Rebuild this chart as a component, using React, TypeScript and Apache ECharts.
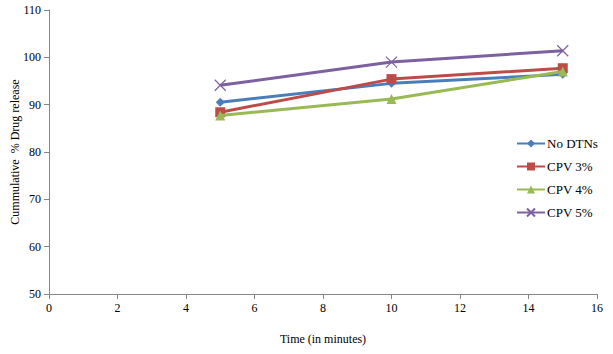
import React, { useEffect, useRef } from "react";
import * as echarts from "echarts";

const times = [5, 10, 15];
const seriesNames = ["No DTNs", "CPV 3%", "CPV 4%", "CPV 5%"];
const noDTNs = [90.5, 94.5, 96.4];
const cpv3 = [88.4, 95.4, 97.7];
const cpv4 = [87.7, 91.2, 97.0];
const cpv5 = [94.1, 99.0, 101.4];
const colors = ["#4A7EBB", "#BE4B48", "#98B954", "#7D60A0"];

const FONT = "serif";

export default function App() {
  const ref = useRef<HTMLDivElement>(null);
  useEffect(() => {
    if (!ref.current) return;
    const chart = echarts.init(ref.current, undefined, { renderer: "svg" });
    const values = [noDTNs, cpv3, cpv4, cpv5];
    const symbols = [
      "diamond",
      "rect",
      "triangle",
      "path://M0,0 L10,10 M10,0 L0,10",
    ];
    const sizes = [9, 10, 10, 11];
    const txt = { fontFamily: FONT, fontSize: 12, color: "#000" };
    chart.setOption({
      animation: false,
      backgroundColor: "#ffffff",
      textStyle: { fontFamily: FONT },
      grid: {
        left: 49,
        right: 16,
        top: 10,
        bottom: 60,
        containLabel: false,
        outerBoundsMode: "none",
      },
      legend: {
        orient: "vertical",
        left: 511,
        top: 132,
        itemWidth: 28,
        itemHeight: 10,
        itemGap: 10,
        data: seriesNames,
        textStyle: { ...txt, fontSize: 13, padding: [0, 0, 0, -3] },
      },
      xAxis: {
        type: "value",
        min: 0,
        max: 16,
        interval: 2,
        name: "Time (in minutes)",
        nameLocation: "middle",
        nameGap: 39,
        nameMoveOverlap: false,
        nameTextStyle: txt,
        axisLine: { lineStyle: { color: "#868686" } },
        axisTick: { show: true, length: 5, lineStyle: { color: "#868686" } },
        axisLabel: { ...txt, margin: 8 },
        splitLine: { show: false },
      },
      yAxis: {
        type: "value",
        min: 50,
        max: 110,
        interval: 10,
        name: "Cummulative  % Drug release",
        nameLocation: "middle",
        nameGap: 28,
        nameMoveOverlap: false,
        nameTextStyle: txt,
        axisLine: { show: true, lineStyle: { color: "#868686" } },
        axisTick: { show: true, length: 5, lineStyle: { color: "#868686" } },
        axisLabel: { ...txt, margin: 8 },
        splitLine: { show: false },
      },
      series: seriesNames.map((name, i) => ({
        name,
        type: "line",
        data: times.map((t, j) => [t, values[i][j]]),
        symbol: symbols[i],
        symbolSize: sizes[i],
        showSymbol: true,
        lineStyle: { color: colors[i], width: 3 },
        itemStyle:
          i === 3
            ? { color: colors[i], borderColor: colors[i], borderWidth: 1.2 }
            : { color: colors[i], borderWidth: 0 },
        z: 2 + i,
      })),
    });
    return () => chart.dispose();
  }, []);
  return (
    <div
      ref={ref}
      style={{ position: "absolute", left: 0, top: 0, width: 613, height: 354 }}
    />
  );
}
